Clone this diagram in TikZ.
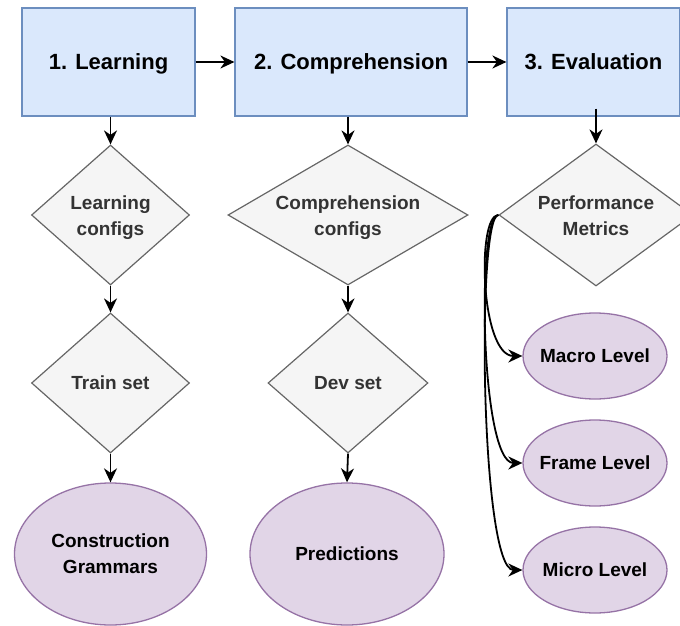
\documentclass[tikz,border=0pt]{standalone}
\usepackage{fontspec}
\setmainfont{Liberation Sans}
\usetikzlibrary{shapes.geometric,arrows.meta}
\definecolor{boxfill}{HTML}{DAE8FC}
\definecolor{boxline}{HTML}{6C8EBF}
\definecolor{dfill}{HTML}{F5F5F5}
\definecolor{dline}{HTML}{666666}
\definecolor{dtext}{HTML}{333333}
\definecolor{efill}{HTML}{E1D5E7}
\definecolor{eline}{HTML}{9673A6}
\begin{document}
\begin{tikzpicture}[x=1pt,y=-1pt,
  stagebox/.style={draw=boxline,fill=boxfill,line width=1.2pt,minimum height=108pt,inner sep=0pt,
    text height=15.5pt,text depth=0pt,font=\fontsize{22}{26}\selectfont\bfseries},
  choice/.style={diamond,draw=dline,fill=dfill,line width=1.2pt,inner sep=0pt,text=dtext,align=center,
    font=\fontsize{19}{26}\selectfont\bfseries},
  twoline/.style={text height=40pt,text depth=0pt},
  result/.style={ellipse,draw=eline,fill=efill,line width=1.3pt,inner sep=0pt,inner xsep=-10pt,align=center,
    font=\fontsize{19}{26}\selectfont\bfseries},
  flow/.style={line width=1.8pt,-{Stealth[length=14pt,width=13pt,inset=4.5pt]}}
]
\useasboundingbox (0,0) rectangle (680,626);
% stages
\node[stagebox,minimum width=173pt] (b1) at (108.5,62) {1. Learning};
\node[stagebox,minimum width=232pt] (b2) at (351,62) {2. Comprehension};
\node[stagebox,minimum width=173pt] (b3) at (593.5,62) {3. Evaluation};
% column 1
\node[choice,twoline,minimum width=158pt,minimum height=140pt,aspect=1.13] (d1) at (110.5,215) {Learning\\configs};
\node[choice,minimum width=158pt,minimum height=140pt,aspect=1.13] (d2) at (110.5,383) {Train set};
\node[result,minimum width=192pt,minimum height=142pt] (e1) at (110.5,554) {Construction\\Grammars};
% column 2
\node[choice,twoline,minimum width=240pt,minimum height=140pt,aspect=1.71] (c1) at (348,215) {Comprehension\\configs};
\node[choice,minimum width=160pt,minimum height=140pt,aspect=1.14] (c2) at (348,383) {Dev set};
\node[result,minimum width=194pt,minimum height=142pt] (e2) at (347,554) {Predictions};
% column 3
\node[choice,twoline,minimum width=194pt,minimum height=142pt,aspect=1.37] (d3) at (596,215) {Performance\\Metrics};
\node[result,minimum width=144pt,minimum height=86pt] (m1) at (595,356) {Macro Level};
\node[result,minimum width=144pt,minimum height=86pt] (m2) at (595,463) {Frame Level};
\node[result,minimum width=144pt,minimum height=86pt] (m3) at (595,570) {Micro Level};
% connectors
\draw[flow] (b1) -- (b2);
\draw[flow] (b2) -- (b3);
\draw[flow] (d1.north |- b1.south) -- (d1.north);
\draw[flow] (d1.south) -- (d2.north);
\draw[flow] (d2.south) -- (e1.north);
\draw[flow] (c1.north |- b2.south) -- (c1.north);
\draw[flow] (c1.south) -- (c2.north);
\draw[flow] (c2.south) -- (e2.north);
\draw[flow,shorten <=-8pt] (d3.north |- b3.south) -- (d3.north);
\draw[flow] (d3.west) .. controls +(-22,0) and +(-42,0) .. (m1.west);
\draw[flow] (d3.west) .. controls +(-22,0) and +(-42,0) .. (m2.west);
\draw[flow] (d3.west) .. controls +(-22,0) and +(-42,0) .. (m3.west);
\end{tikzpicture}
\end{document}
